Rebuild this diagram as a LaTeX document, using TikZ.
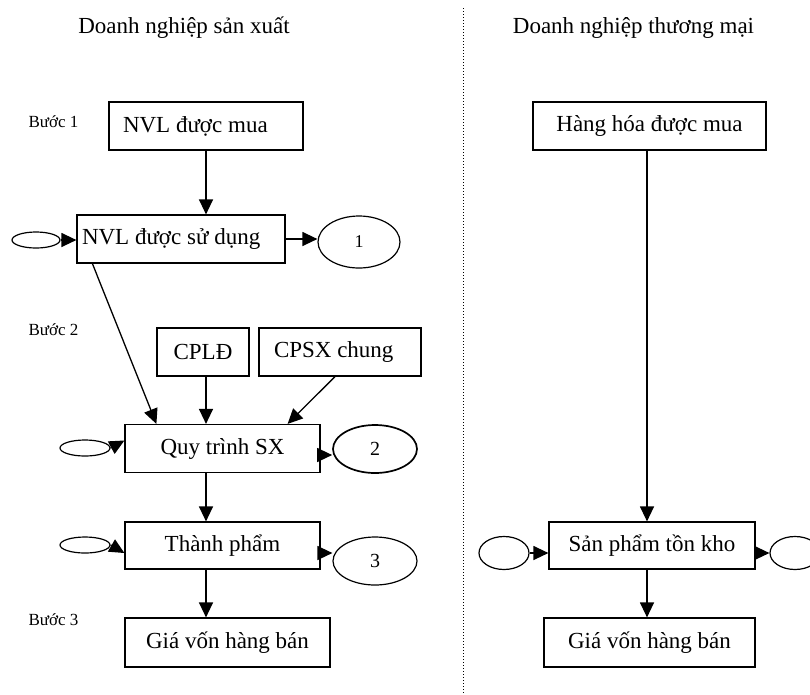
\documentclass[tikz,border=0pt]{standalone}
\usepackage{fontspec}
\setmainfont{Liberation Serif}
\usetikzlibrary{shapes.geometric,arrows.meta}
\tikzset{
  box/.style={draw, line width=1.2pt, inner sep=0pt, minimum height=48pt, font=\fontsize{23}{26}\selectfont},
  oval/.style={draw, ellipse, line width=1.2pt, inner sep=0pt},
  arr/.style={line width=1.3pt, -{Triangle[length=15pt,width=14pt]}},
  head/.style={font=\fontsize{23}{26}\selectfont},
  stepl/.style={anchor=west, font=\fontsize{17}{20}\selectfont},
}
\begin{document}
\begin{tikzpicture}[x=1pt,y=-1pt]
\useasboundingbox (0,0) rectangle (810,694);
% headers
\node[head] (h1) at (184,28) {Doanh nghiệp sản xuất};
\node[head] (h2) at (633.5,28) {Doanh nghiệp thương mại};
\draw[line width=1pt, dotted] (463,8) -- (463,694);
% step labels
\node[stepl] (s1) at (25,122) {Bước 1};
\node[stepl] (s2) at (25,330) {Bước 2};
\node[stepl] (s3) at (25,620) {Bước 3};
% left column
\coordinate (spine) at (206,0);
\node[box, text width=166pt, inner xsep=14pt, align=flush left] (b1) at (206,126) {NVL được mua};
\node[box, text width=198pt, inner xsep=5pt, align=flush left] (b2) at (181,239) {NVL được sử dụng};
\node[oval, minimum width=48pt, minimum height=16pt] (e0) at (36,240) {};
\node[oval, minimum width=82pt, minimum height=52pt, font=\fontsize{18}{20}\selectfont] (e1) at (359,242) {1};
\node[box, minimum width=92pt] (cpld) at (203,352) {CPLĐ};
\node[box, text width=132pt, inner xsep=15pt, align=flush left] (cpsx) at (340,352) {CPSX chung};
\node[box, minimum width=195pt] (quy) at (222.5,448.5) {Quy trình SX};
\node[oval, minimum width=50pt, minimum height=16pt] (e2l) at (85,448) {};
\node[oval, line width=1.7pt, minimum width=84pt, minimum height=48pt, font=\fontsize{20}{22}\selectfont] (e2) at (375,449) {2};
\node[box, minimum width=195pt, minimum height=47pt] (thanh) at (222.5,545.5) {Thành phẩm};
\node[oval, minimum width=50pt, minimum height=16pt] (e3l) at (85,545) {};
\node[oval, minimum width=84pt, minimum height=48pt, font=\fontsize{20}{22}\selectfont] (e3) at (375,561) {3};
\node[box, minimum width=205pt, minimum height=49pt] (gl) at (227.5,642.5) {Giá vốn hàng bán};
% right column
\node[box, minimum width=233pt] (hh) at (649.5,126) {Hàng hóa được mua};
\node[box, minimum width=206pt, minimum height=47pt] (sp) at (652,545.5) {Sản phẩm tồn kho};
\node[oval, minimum width=50pt, minimum height=33pt] (e4) at (504,553) {};
\node[oval, minimum width=50pt, minimum height=33pt] (e5) at (795,553) {};
\node[box, minimum width=211pt, minimum height=49pt] (gr) at (649.5,642.5) {Giá vốn hàng bán};
\coordinate (rspine) at (647,0);
% connectors left
\draw[arr] (spine |- b1.south) -- (spine |- b2.north);
\draw[arr] (e0.east) -- (e0.east -| b2.west);
\draw[arr] (b2.east) -- (b2.east -| e1.west);
\draw[arr] ([xshift=16pt]b2.south west) -- ([xshift=32pt]quy.north west);
\draw[arr] (spine |- cpld.south) -- (spine |- quy.north);
\draw[arr] ([xshift=-5pt]cpsx.south) -- ([xshift=-33pt]quy.north east);
\draw[arr] (e2l.east) -- ([yshift=8pt]quy.west);
\coordinate (q2) at ([yshift=-6.5pt]quy.east);
\draw[arr] (q2) -- (q2 -| e2.west);
\draw[arr] (spine |- quy.south) -- (spine |- thanh.north);
\draw[arr] (e3l.east) -- ([yshift=-7.5pt]thanh.west);
\coordinate (t3) at ([yshift=-7.5pt]thanh.east);
\draw[arr] (t3) -- (t3 -| e3.west);
\draw[arr] (spine |- thanh.south) -- (spine |- gl.north);
% connectors right
\draw[arr] (rspine |- hh.south) -- (rspine |- sp.north);
\draw[arr] (e4.east) -- (e4.east -| sp.west);
\draw[arr] (sp.east |- e5.west) -- (e5.west);
\draw[arr] (rspine |- sp.south) -- (rspine |- gr.north);
\end{tikzpicture}
\end{document}
